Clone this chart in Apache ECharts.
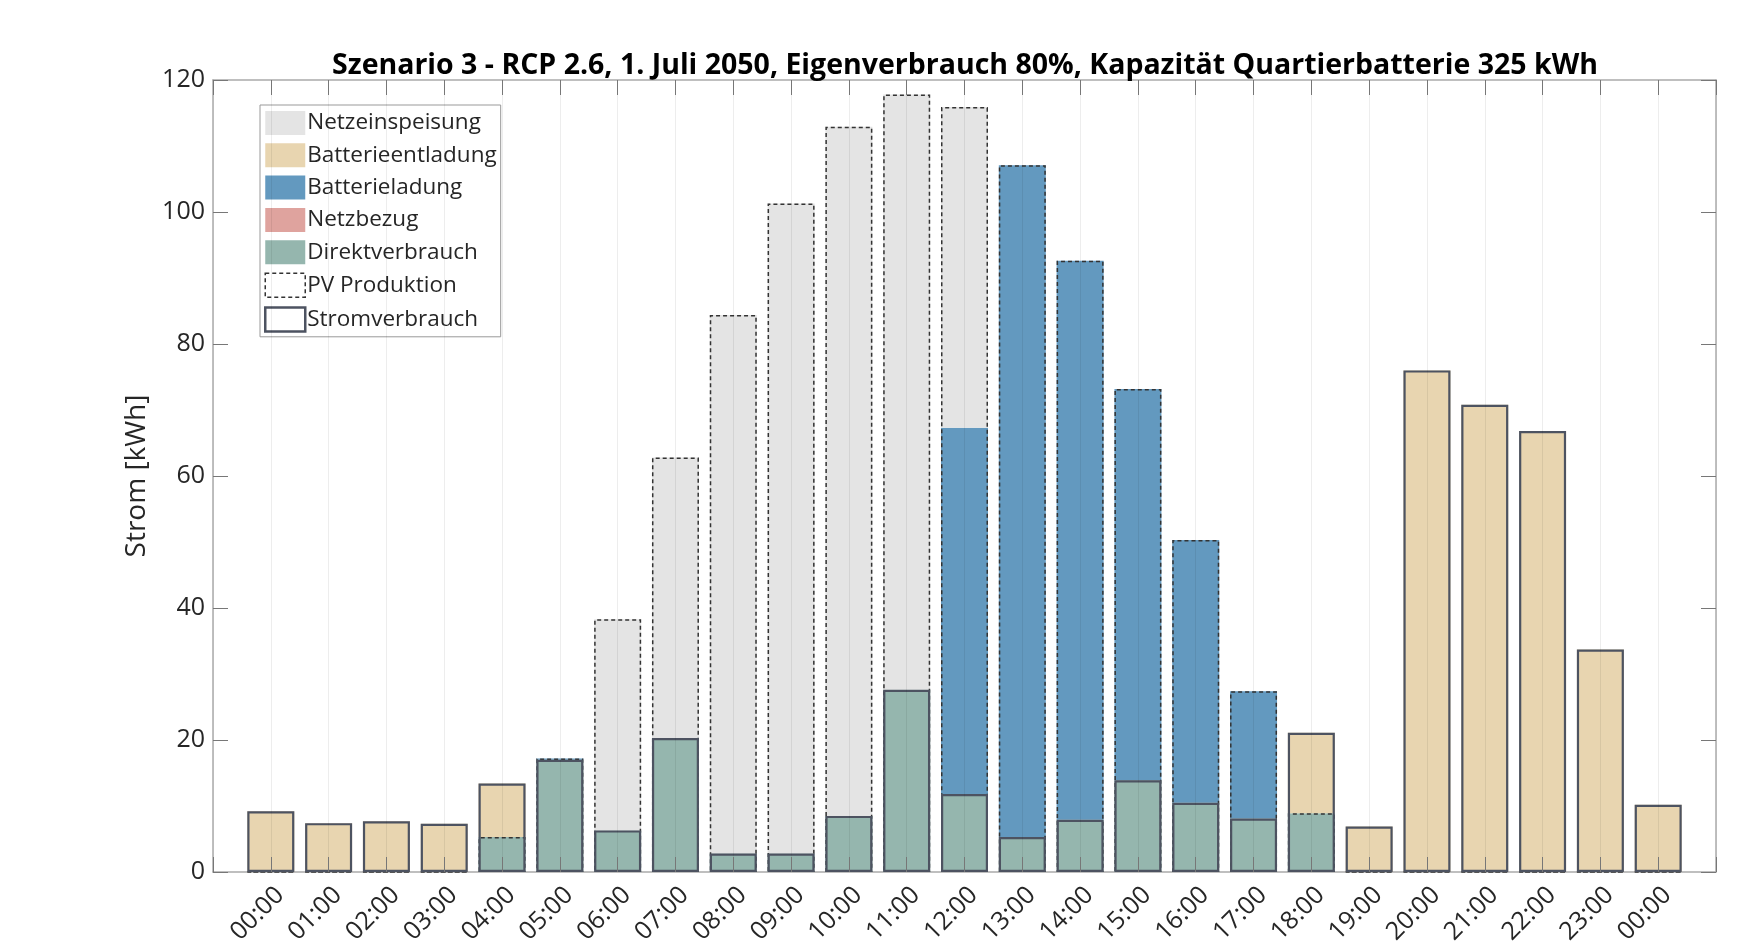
<!DOCTYPE html>
<html>
<head>
<meta charset="utf-8">
<script src="https://cdn.jsdelivr.net/npm/echarts@6/dist/echarts.min.js"></script>
<style>
  html, body { margin: 0; padding: 0; background: #fff; }
  #chart { width: 1757px; height: 943px; }
</style>
</head>
<body>
<div id="chart"></div>
<script>
// Stunden (x-Achse)
var stunden = ['00:00', '01:00', '02:00', '03:00', '04:00', '05:00', '06:00', '07:00', '08:00',
    '09:00', '10:00', '11:00', '12:00', '13:00', '14:00', '15:00', '16:00', '17:00', '18:00',
    '19:00', '20:00', '21:00', '22:00', '23:00', '00:00'];

// Werte in kWh
var direktverbrauch = [0, 0, 0, 0, 5.3, 17.0, 6.3, 20.3, 2.8, 2.8, 8.5, 27.6, 11.8, 5.3, 7.9, 13.9, 10.5, 8.1, 8.9, 0, 0, 0, 0, 0, 0];
var netzbezug = [0, 0, 0, 0, 0, 0, 0, 0, 0, 0, 0, 0, 0, 0, 0, 0, 0, 0, 0, 0, 0, 0, 0, 0, 0];
var batterieentladung = [9.2, 7.4, 7.7, 7.3, 8.1, 0, 0, 0, 0, 0, 0, 0, 0, 0, 0, 0, 0, 0, 12.2, 6.9, 76.0, 70.8, 66.8, 33.7, 10.2];
var batterieladung = [0, 0, 0, 0, 0, 0.2, 0, 0, 0, 0, 0, 0, 55.5, 101.8, 84.7, 59.3, 39.8, 19.3, 0, 0, 0, 0, 0, 0, 0];
var netzeinspeisung = [0, 0, 0, 0, 0, 0, 32.0, 42.5, 81.6, 98.5, 104.4, 90.2, 48.6, 0, 0, 0, 0, 0, 0, 0, 0, 0, 0, 0, 0];
var pvProduktion = [0, 0, 0, 0, 5.3, 17.2, 38.3, 62.8, 84.4, 101.3, 112.9, 117.8, 115.9, 107.1, 92.6, 73.2, 50.3, 27.4, 8.9, 0, 0, 0, 0, 0, 0];
var stromverbrauch = [9.2, 7.4, 7.7, 7.3, 13.4, 17.0, 6.3, 20.3, 2.8, 2.8, 8.5, 27.6, 11.8, 5.3, 7.9, 13.9, 10.5, 8.1, 21.1, 6.9, 76.0, 70.8, 66.8, 33.7, 10.2];

// Achse wie in MATLAB: leerer Platz links und rechts (0 und 26)
var kategorien = [''].concat(stunden, ['']);
function auffuellen(arr) {
    return [null].concat(arr, [null]);
}

var barW = 47;
var fontFam = '"Open Sans", "Noto Sans", sans-serif';

function fuellung(name, arr, farbe) {
    return {
        name: name,
        type: 'bar',
        stack: 'summe',
        barWidth: barW,
        barGap: '-100%',
        data: auffuellen(arr),
        itemStyle: { color: farbe },
        emphasis: { disabled: true }
    };
}

var achsenFarbe = '#aaaaaa';
var tickFarbe = '#777';

var option = {
    backgroundColor: '#fff',
    animation: false,
    title: {
        text: 'Szenario 3 - RCP 2.6, 1. Juli 2050, Eigenverbrauch 80%, Kapazität Quartierbatterie 325 kWh',
        left: 960,
        top: 46,
        textAlign: 'center',
        textStyle: { fontFamily: fontFam, fontSize: 28.5, fontWeight: 'bold', color: '#000' }
    },
    legend: {
        orient: 'vertical',
        left: 260,
        top: 105,
        padding: [6, 4, 4, 4],
        icon: 'rect',
        itemWidth: 40,
        itemHeight: 24,
        itemGap: 8.3,
        borderColor: '#999',
        borderWidth: 1,
        backgroundColor: '#fff',
        textStyle: { fontFamily: fontFam, fontSize: 22.5, color: '#262626', padding: [0, 0, 0, -3] },
        data: [
            { name: 'Netzeinspeisung' },
            { name: 'Batterieentladung' },
            { name: 'Batterieladung' },
            { name: 'Netzbezug' },
            { name: 'Direktverbrauch' },
            { name: 'PV Produktion', itemStyle: { color: '#fff', borderColor: '#333', borderWidth: 1.5, borderType: [4, 3] } },
            { name: 'Stromverbrauch', itemStyle: { color: '#fff', borderColor: '#4d5361', borderWidth: 2.5 } }
        ]
    },
    grid: { left: 213, right: 41, top: 80, bottom: 71, containLabel: false, outerBoundsMode: 'none' },
    xAxis: [{
        // Beschriftung unten
        type: 'category',
        data: kategorien,
        boundaryGap: false,
        position: 'bottom',
        axisLine: { show: true, onZero: false, lineStyle: { color: achsenFarbe, width: 1.5 } },
        axisTick: { show: false },
        axisLabel: {
            interval: 0,
            rotate: 45,
            margin: 10,
            fontFamily: fontFam,
            fontSize: 25,
            color: '#262626',
            formatter: function (v) {
                return v ? '{t|' + v + '}' : '';
            },
            rich: {
                t: { fontFamily: fontFam, fontSize: 25, color: '#262626', padding: [26, 0, 0, 0] }
            }
        },
        splitLine: { show: false }
    }, {
        // Rahmen oben, Gitterlinien über den Balken
        type: 'category',
        data: kategorien,
        boundaryGap: false,
        position: 'top',
        axisLine: { show: true, onZero: false, lineStyle: { color: achsenFarbe, width: 1.5 } },
        axisTick: { show: true, inside: true, length: 15, interval: 0, lineStyle: { color: tickFarbe } },
        axisLabel: { show: false },
        splitLine: { show: true, interval: 0, lineStyle: { color: 'rgba(0,0,0,0.07)', width: 1 } },
        z: 5
    }, {
        // Ticks unten, über den Balken
        type: 'category',
        data: kategorien,
        boundaryGap: false,
        position: 'bottom',
        axisLine: { show: false, onZero: false },
        axisTick: { show: true, inside: true, length: 15, interval: 0, lineStyle: { color: tickFarbe } },
        axisLabel: { show: false },
        splitLine: { show: false },
        z: 5
    }],
    yAxis: [{
        type: 'value',
        min: 0,
        max: 120,
        interval: 20,
        name: 'Strom [kWh]',
        nameLocation: 'middle',
        nameGap: 55,
        nameTextStyle: { fontFamily: fontFam, fontSize: 28, color: '#262626' },
        axisLine: { show: true, onZero: false, lineStyle: { color: achsenFarbe, width: 1.5 } },
        axisTick: { show: true, inside: true, length: 15, lineStyle: { color: tickFarbe } },
        axisLabel: { fontFamily: fontFam, fontSize: 25, color: '#262626', margin: 8 },
        splitLine: { show: false },
        z: 5
    }, {
        type: 'value',
        min: 0,
        max: 120,
        interval: 20,
        position: 'right',
        axisLine: { show: true, onZero: false, lineStyle: { color: achsenFarbe, width: 1.5 } },
        axisTick: { show: true, inside: true, length: 15, lineStyle: { color: tickFarbe } },
        axisLabel: { show: false },
        splitLine: { show: false },
        z: 5
    }],
    series: [
        fuellung('Direktverbrauch', direktverbrauch, '#95b6ae'),
        fuellung('Netzbezug', netzbezug, '#dfa39e'),
        fuellung('Batterieentladung', batterieentladung, '#e8d5b0'),
        fuellung('Batterieladung', batterieladung, '#6399bf'),
        fuellung('Netzeinspeisung', netzeinspeisung, '#e4e4e4'),
        {
            name: 'PV Produktion',
            type: 'bar',
            barWidth: barW,
            barGap: '-100%',
            data: auffuellen(pvProduktion),
            itemStyle: { color: 'rgba(255,255,255,0)', borderColor: '#333', borderWidth: 1.5, borderType: [4, 3] },
            emphasis: { disabled: true },
            z: 3
        },
        {
            name: 'Stromverbrauch',
            type: 'bar',
            barWidth: barW,
            barGap: '-100%',
            data: auffuellen(stromverbrauch),
            itemStyle: { color: 'rgba(255,255,255,0)', borderColor: '#4d5361', borderWidth: 2.2 },
            emphasis: { disabled: true },
            z: 4
        }
    ]
};

var chart = echarts.init(document.getElementById('chart'));
chart.setOption(option);
</script>
</body>
</html>
